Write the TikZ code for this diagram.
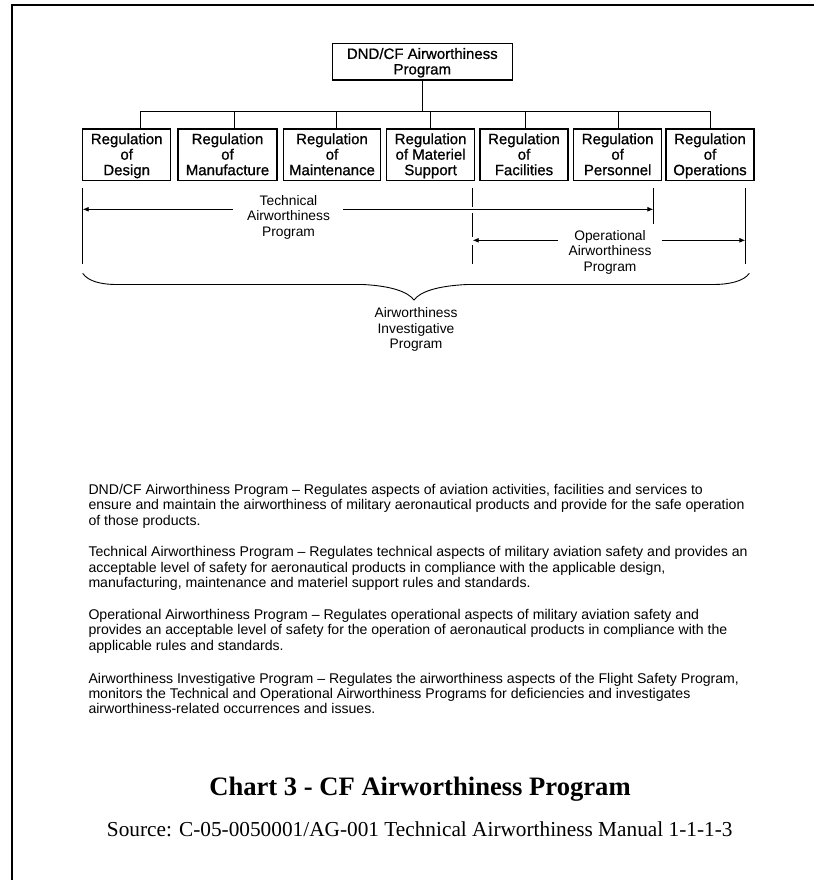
\documentclass[tikz,border=0pt]{standalone}
\usepackage{fontspec}
\setmainfont{Liberation Sans}
\newfontfamily\chartserif{Liberation Serif}
\newfontfamily\boxlabelfont{Liberation Sans}[FakeBold=0.8]
\newcommand\boxtopstrut{\rule{0pt}{14.6pt}}
\usetikzlibrary{arrows.meta}
\begin{document}
\begin{tikzpicture}[x=1pt,y=-1pt,
  box/.style={draw, line width=1.1pt, inner sep=0pt, align=center,
    font=\boxlabelfont\fontsize{15}{15.5}\selectfont},
  conn/.style={line width=0.9pt},
  arr/.style={line width=0.9pt, -{Latex[length=6pt,width=5pt]}},
  lbl/.style={align=center, inner sep=0pt, font=\fontsize{13.8}{15.5}\selectfont},
  para/.style={anchor=base west, inner sep=0pt, font=\fontsize{14.1}{15.5}\selectfont}]
\useasboundingbox (0,0) rectangle (814,880);
\fill[white] (0,0) rectangle (814,880);
% page frame
\draw[line width=2pt] (11.7,880) -- (11.7,5) -- (814,5);

% boxes
\node[box, minimum width=180pt, minimum height=36.7pt] (top) at (422.3,61.7) {\boxtopstrut DND/CF Airworthiness\\Program\strut};
\node[box, minimum width=88pt,  minimum height=51.3pt] (b1) at (126.7,154.7) {\boxtopstrut Regulation\\of\\Design\strut};
\node[box, minimum width=99pt,  minimum height=51.3pt] (b2) at (227.5,154.7) {\boxtopstrut Regulation\\of\\Manufacture\strut};
\node[box, minimum width=97pt,  minimum height=51.3pt] (b3) at (332,154.7) {\boxtopstrut Regulation\\of\\Maintenance\strut};
\node[box, minimum width=87.8pt,minimum height=51.3pt] (b4) at (430.6,154.7) {\boxtopstrut Regulation\\of Materiel\\Support\strut};
\node[box, minimum width=88pt,  minimum height=51.3pt] (b5) at (524,154.7) {\boxtopstrut Regulation\\of\\Facilities\strut};
\node[box, minimum width=88.1pt,minimum height=51.3pt] (b6) at (617.65,154.7) {\boxtopstrut Regulation\\of\\Personnel\strut};
\node[box, minimum width=88pt,  minimum height=51.3pt] (b7) at (710,154.7) {\boxtopstrut Regulation\\of\\Operations\strut};

% tree connectors
\coordinate (bus) at (422.3,111);
\draw[conn] (top.south) -- (bus);
\draw[conn] ([xshift=13.3pt]b1.north) |- (bus);
\draw[conn] ([xshift=6.8pt]b2.north) |- (bus);
\draw[conn] ([xshift=4.5pt]b3.north) |- (bus);
\draw[conn] ([xshift=-0.6pt]b4.north) |- (bus);
\draw[conn] ([xshift=1.4pt]b5.north) |- (bus);
\draw[conn] ([xshift=0.55pt]b6.north) |- (bus);
\draw[conn] ([xshift=0.7pt]b7.north) |- (bus);

% extent bars
\draw[conn] (82.7,187.7) -- (82.7,264.2);
\draw[conn] (472.7,187.7) -- (472.7,206.7);
\draw[conn] (472.7,213.3) -- (472.7,236.7);
\draw[conn] (472.7,245) -- (472.7,264.2);
\draw[conn] (653.3,187.7) -- (653.3,224.3);
\draw[conn] (745.3,187.7) -- (745.3,264.2);

% technical airworthiness program
\node[lbl] (tech) at (288.5,217.5) {\strut Technical\\Airworthiness\\Program\strut};
\coordinate (tL) at (82.7,209.3);
\coordinate (tR) at (653.3,209.3);
\coordinate (tg1) at (233,209.3);
\coordinate (tg2) at (343,209.3);
\draw[arr] (tg1) -- (tL);
\draw[arr] (tg2) -- (tR);

% operational airworthiness program
\node[lbl] (oper) at (610,252.5) {\strut Operational\\Airworthiness\\Program\strut};
\coordinate (oL) at (472.7,240.3);
\coordinate (oR) at (745.3,240.3);
\coordinate (og1) at (558,240.3);
\coordinate (og2) at (661.5,240.3);
\draw[arr] (og1) -- (oL);
\draw[arr] (og2) -- (oR);

% brace
\draw[conn] (82.7,273.3) .. controls (88,281) and (100,284.5) .. (117,284.5)
  -- (363,284.5) .. controls (392,286) and (408,292) .. (414,300)
  .. controls (420,292) and (436,286) .. (467,284.5)
  -- (713,284.5) .. controls (730,284.5) and (744,281) .. (749.3,273.3);
\node[lbl] (inv) at (416,330) {\strut Airworthiness\\Investigative\\Program\strut};

% paragraphs
\node[para] (p1a) at (88.3,494) {DND/CF Airworthiness Program – Regulates aspects of aviation activities, facilities and services to};
\node[para] (p1b) at (88.3,509.5) {ensure and maintain the airworthiness of military aeronautical products and provide for the safe operation};
\node[para] (p1c) at (88.3,525) {of those products.};
\node[para] (p2a) at (88.3,556.5) {Technical Airworthiness Program – Regulates technical aspects of military aviation safety and provides an};
\node[para] (p2b) at (88.3,572) {acceptable level of safety for aeronautical products in compliance with the applicable design,};
\node[para] (p2c) at (88.3,587.5) {manufacturing, maintenance and materiel support rules and standards.};
\node[para] (p3a) at (88.3,619) {Operational Airworthiness Program – Regulates operational aspects of military aviation safety and};
\node[para] (p3b) at (88.3,634.5) {provides an acceptable level of safety for the operation of aeronautical products in compliance with the};
\node[para] (p3c) at (88.3,650) {applicable rules and standards.};
\node[para] (p4a) at (88.3,683.3) {Airworthiness Investigative Program – Regulates the airworthiness aspects of the Flight Safety Program,};
\node[para] (p4b) at (88.3,698.5) {monitors the Technical and Operational Airworthiness Programs for deficiencies and investigates};
\node[para] (p4c) at (88.3,713.5) {airworthiness-related occurrences and issues.};

% caption
\node[anchor=base, inner sep=0pt, font=\chartserif\bfseries\fontsize{26.6}{30}\selectfont] (title) at (420,795) {Chart 3 - CF Airworthiness Program};
\node[anchor=base, inner sep=0pt, font=\chartserif\fontsize{21.3}{24}\selectfont] (src) at (419.7,836) {Source: C-05-0050001/AG-001 Technical Airworthiness Manual 1-1-1-3};
\end{tikzpicture}
\end{document}
